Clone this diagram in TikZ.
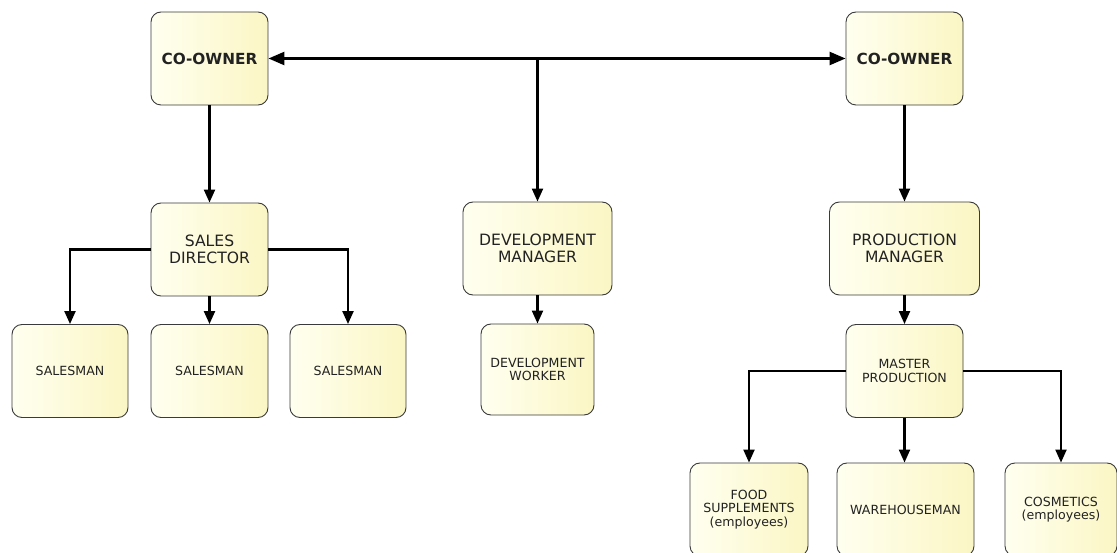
\documentclass[tikz,border=0pt]{standalone}
\usepackage{fontspec}
\setmainfont{DejaVu Sans}
\usetikzlibrary{arrows.meta,calc}
\definecolor{boxL}{HTML}{FFFFF0}
\definecolor{boxR}{HTML}{FBF6C4}
\definecolor{boxline}{HTML}{3A3A3A}
\definecolor{txt}{HTML}{222222}
\tikzset{
  box/.style={draw=boxline, line width=0.9pt, rounded corners=10pt,
    left color=boxL, right color=boxR, minimum width=117pt, minimum height=93pt,
    inner sep=2pt, align=center, text=txt, font=\fontsize{12.6pt}{13.5pt}\selectfont},
  bigbox/.style={box, font=\fontsize{15.6pt}{17pt}\selectfont},
  ownerbox/.style={box, font=\bfseries\fontsize{15.3pt}{17pt}\selectfont},
  conn/.style={draw=black, line width=2.2pt, -{Triangle[length=13pt,width=11pt]}},
  bothconn/.style={draw=black, line width=2.5pt, {Triangle[length=16pt,width=13pt]}-{Triangle[length=16pt,width=13pt]}}
}
\begin{document}
\begin{tikzpicture}[x=1pt,y=-1pt]
\useasboundingbox (0,0) rectangle (1117,553);
\clip (0,0) rectangle (1117,553);
% nodes
\node[ownerbox] (co1) at (209.5,58.5) {CO-OWNER};
\node[ownerbox] (co2) at (904.5,58.5) {CO-OWNER};
\node[bigbox] (sd) at (209.5,249.5) {SALES\\DIRECTOR};
\node[bigbox, minimum width=149pt] (dm) at (537.5,248.5) {DEVELOPMENT\\MANAGER};
\node[bigbox, minimum width=150pt] (pm) at (904.5,248.5) {PRODUCTION\\MANAGER};
\node[box, minimum width=116pt] (s1) at (70,371) {SALESMAN};
\node[box] (s2) at (209.5,371) {SALESMAN};
\node[box, minimum width=116pt] (s3) at (348,371) {SALESMAN};
\node[box, minimum width=113pt, minimum height=91pt] (dw) at (537.5,369.5) {DEVELOPMENT\\WORKER};
\node[box] (mp) at (904.5,371) {MASTER\\PRODUCTION};
\node[box, minimum width=118pt] (fs) at (749,509.5) {FOOD\\SUPPLEMENTS\\(employees)};
\node[box, minimum width=137pt] (wh) at (905.5,509.5) {WAREHOUSEMAN};
\node[box, minimum width=112pt] (cs) at (1061,509.5) {COSMETICS\\(employees)};
% connectors
\draw[bothconn] (co1.east) -- (co2.west);
\coordinate (mid) at (dm.north |- co1.east);
\draw[conn] (mid) -- (dm.north);
\draw[conn] (co1.south) -- (sd.north);
\draw[conn] (co2.south) -- (pm.north);
\draw[conn] (sd.west) -| (s1.north);
\draw[conn] (sd.south) -- (s2.north);
\draw[conn] (sd.east) -| (s3.north);
\draw[conn] (dm.south) -- (dw.north);
\draw[conn] (pm.south) -- (mp.north);
\draw[conn] (mp.west) -| (fs.north);
\draw[conn] (mp.south) -- (mp.south |- wh.north);
\draw[conn] (mp.east) -| (cs.north);
\end{tikzpicture}
\end{document}
